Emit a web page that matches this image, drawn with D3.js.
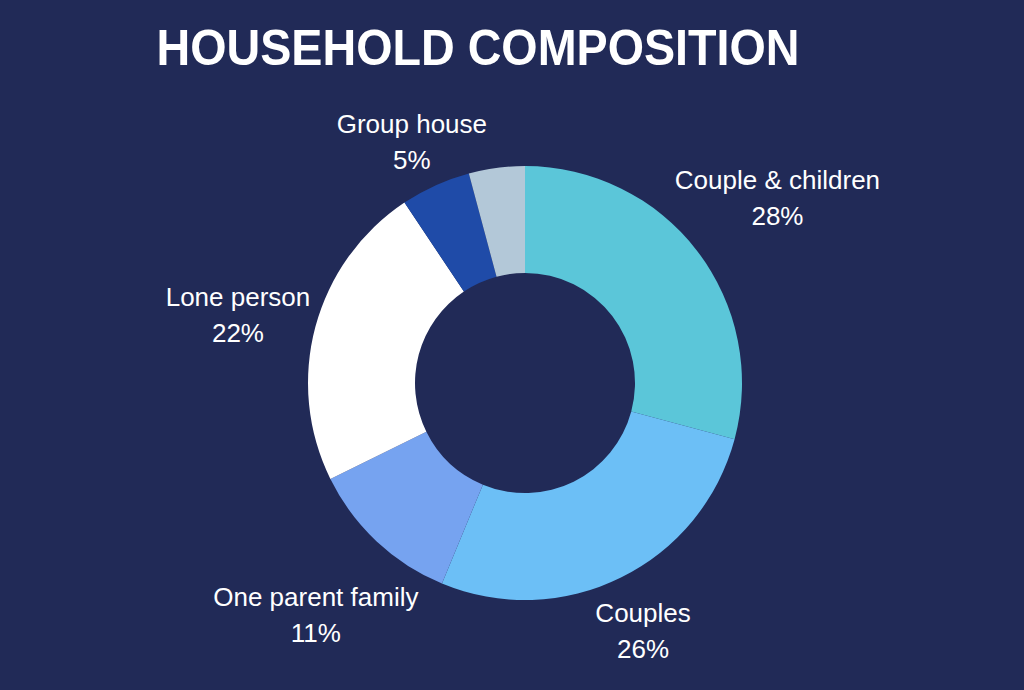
<!DOCTYPE html>
<html>
<head>
<meta charset="utf-8">
<script src="https://cdn.jsdelivr.net/npm/d3@7"></script>
<style>
  html, body { margin: 0; padding: 0; background: #212a57; }
  svg { display: block; font-family: "Liberation Sans", Arial, Helvetica, sans-serif; }
</style>
</head>
<body>
<div id="chart"></div>
<script>
// household composition data
const categories = ["Couple & children", "Couples", "One parent family", "Lone person", "Group house", "Other"];
const values = [28, 26, 11, 22, 5, 4];
const colors = ["#5bc6d9", "#6cbff6", "#76a3f0", "#ffffff", "#1f4ba8", "#b3c8d8"];
const showLabel = [true, true, true, true, true, false];

const width = 1024, height = 690;
const cx = 525, cy = 383;
const outerR = 217, innerR = 110;

const svg = d3.select("#chart")
  .append("svg")
    .attr("width", width)
    .attr("height", height);

svg.append("rect")
    .attr("width", width)
    .attr("height", height)
    .attr("fill", "#212a57");

// title
svg.append("text")
    .attr("x", 478)
    .attr("y", 65)
    .attr("text-anchor", "middle")
    .attr("textLength", 643)
    .attr("lengthAdjust", "spacingAndGlyphs")
    .style("font-size", "50px")
    .style("font-weight", "bold")
    .style("fill", "white")
    .text("HOUSEHOLD COMPOSITION");

const data = categories.map((c, i) => ({ name: c, value: values[i], color: colors[i], label: showLabel[i] }));

const pie = d3.pie()
    .value(d => d.value)
    .sort(null);

const arc = d3.arc()
    .innerRadius(innerR)
    .outerRadius(outerR);

const g = svg.append("g")
    .attr("transform", `translate(${cx},${cy})`);

const arcs = pie(data);

g.selectAll("path")
  .data(arcs)
  .enter()
  .append("path")
    .attr("d", arc)
    .attr("fill", d => d.data.color);

// labels: two lines, pushed out along mid angle until the box clears the ring
const labels = g.selectAll("g.lbl")
  .data(arcs.filter(d => d.data.label))
  .enter()
  .append("g")
    .attr("class", "lbl");

labels.append("text")
    .attr("text-anchor", "middle")
    .style("font-size", "26px")
    .style("fill", "white")
    .each(function(d) {
      const t = d3.select(this);
      t.append("tspan").attr("x", 0).attr("y", -8).text(d.data.name);
      t.append("tspan").attr("x", 0).attr("y", 28).text(d.data.value + "%");
    });

labels.each(function(d) {
    const bb = this.getBBox();
    const a = (d.startAngle + d.endAngle) / 2;
    const ux = Math.sin(a), uy = -Math.cos(a);
    const target = outerR + 2;
    // nearest distance from centre to the box when its centre is at radius r
    const nearest = r => {
      const x0 = ux * r + bb.x, y0 = uy * r + bb.y;
      const nx = Math.max(x0, Math.min(0, x0 + bb.width));
      const ny = Math.max(y0, Math.min(0, y0 + bb.height));
      return Math.hypot(nx, ny);
    };
    let lo = 0, hi = 600;
    for (let k = 0; k < 40; k++) {
      const mid = (lo + hi) / 2;
      if (nearest(mid) < target) lo = mid; else hi = mid;
    }
    // small downward nudge, text sits a little lower than its box
    d3.select(this).attr("transform", `translate(${ux * hi},${uy * hi + 8})`);
});
</script>
</body>
</html>
